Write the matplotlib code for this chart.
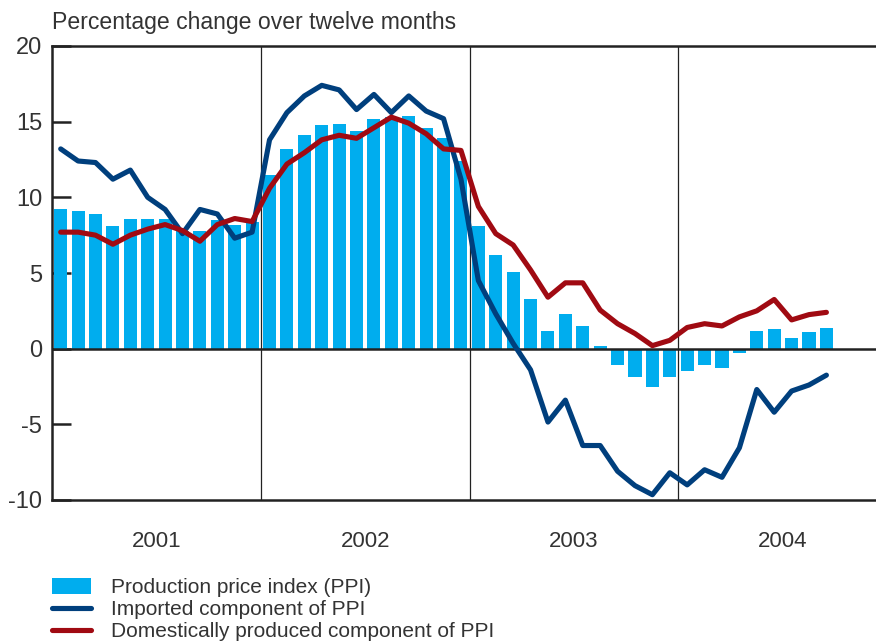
import numpy as np
import matplotlib
matplotlib.use('Agg')
from matplotlib import pyplot as plt

plt.rcParams['font.family'] = ['Liberation Sans', 'DejaVu Sans']

years = ['2001', '2002', '2003', '2004']

# monthly values, Jan 2001 - Sep 2004
ppi = [9.2, 9.1, 8.9, 8.1, 8.6, 8.6, 8.6, 7.8, 7.8, 8.5, 8.2, 8.4,
       11.5, 13.2, 14.1, 14.8, 14.85, 14.4, 15.2, 15.3, 15.4, 14.6, 13.9, 12.4,
       8.1, 6.2, 5.05, 3.3, 1.15, 2.3, 1.5, 0.15, -1.1, -1.9, -2.5, -1.9,
       -1.5, -1.1, -1.3, -0.3, 1.15, 1.3, 0.7, 1.1, 1.35]
imported = [13.2, 12.4, 12.3, 11.2, 11.8, 10.0, 9.2, 7.6, 9.2, 8.9, 7.3, 7.7,
            13.8, 15.6, 16.7, 17.4, 17.1, 15.8, 16.8, 15.6, 16.7, 15.7, 15.2, 11.2,
            4.5, 2.3, 0.35, -1.4, -4.85, -3.4, -6.4, -6.4, -8.1, -9.05, -9.65, -8.2,
            -9.0, -8.0, -8.5, -6.55, -2.7, -4.2, -2.8, -2.4, -1.75]
domestic = [7.7, 7.7, 7.5, 6.9, 7.5, 7.9, 8.2, 7.8, 7.1, 8.2, 8.6, 8.4,
            10.6, 12.2, 12.95, 13.8, 14.1, 13.9, 14.6, 15.3, 14.9, 14.2, 13.2, 13.1,
            9.4, 7.6, 6.85, 5.2, 3.4, 4.35, 4.35, 2.55, 1.65, 1.0, 0.2, 0.55,
            1.4, 1.65, 1.5, 2.1, 2.5, 3.25, 1.9, 2.25, 2.4]

c_bar = '#00ADEE'
c_imp = '#003F7D'
c_dom = '#A00A12'
c_txt = '#333333'

fig = plt.figure(figsize=(8.76, 6.44), dpi=100)
ax = fig.add_axes([52 / 876, 1 - 500 / 644, 1 - 52 / 876, 454 / 644])

x = np.arange(len(ppi)) + 0.5
bars = ax.bar(x, ppi, width=0.75, color=c_bar, zorder=2)
l_imp, = ax.plot(x, imported, color=c_imp, lw=3.7, zorder=4, solid_capstyle='round')
l_dom, = ax.plot(x, domestic, color=c_dom, lw=3.7, zorder=4, solid_capstyle='round')

ax.axhline(0, color='#222222', lw=1.8, zorder=3)
for b in [12, 24, 36]:
    ax.axvline(b, color='#222222', lw=0.9, zorder=1)

ax.set_xlim(0, 47.35)
ax.set_ylim(-10, 20)
ax.set_yticks([-10, -5, 0, 5, 10, 15, 20])
ax.set_yticklabels(['-10', '-5', '0', '5', '10', '15', '20'])
ax.tick_params(axis='y', direction='in', length=14, width=1.8, color='#222222',
               labelsize=17, labelcolor=c_txt, pad=7)
ax.set_xticks([6, 18, 30, 42])
ax.set_xticklabels(years)
ax.tick_params(axis='x', length=0, labelsize=16, labelcolor=c_txt, pad=22)

ax.spines['right'].set_visible(False)
for s in ['left', 'bottom', 'top']:
    ax.spines[s].set_color('#222222')
    ax.spines[s].set_linewidth(1.8)

fig.text(52 / 876, 1 - 29 / 644, 'Percentage change over twelve months',
         fontsize=16.6, color=c_txt, ha='left', va='baseline')

fig.legend([bars, l_imp, l_dom],
           ['Production price index (PPI)', 'Imported component of PPI',
            'Domestically produced component of PPI'],
           loc='upper left', bbox_to_anchor=(44 / 876, 1 - 570 / 644), frameon=False,
           fontsize=15, labelcolor=c_txt, handlelength=1.85, handleheight=0.75,
           handletextpad=0.95, labelspacing=0.14, borderaxespad=0)

fig.savefig('out.png', dpi=100)
